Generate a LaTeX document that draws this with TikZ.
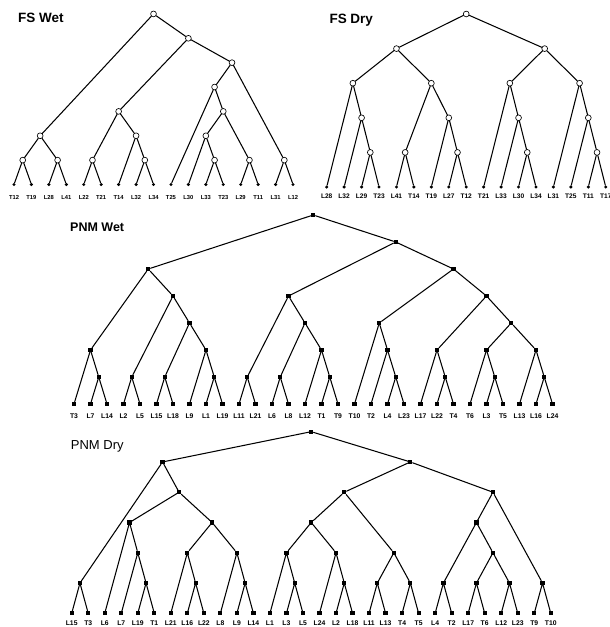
\documentclass[tikz,border=0pt]{standalone}
\usepackage{fontspec}
\setmainfont{Liberation Sans}

% grid of one tree: first leaf x, leaf spacing, leaf y, level height
\newcommand\setgrid[4]{\def\xo{#1}\def\dx{#2}\def\yb{#3}\def\dy{#4}}
% branch point spanning leaves #2..#3 at height #4
\newcommand\branchnode[4]{\node[branchpt] (#1) at ({\xo+\dx*(#2+#3)/2},{\yb-\dy*#4}) {};}
% leaves with their labels; #2 = baseline offset of the labels
\newcommand\leafrow[3]{\foreach \lab [count=\i from 0] in {#3}{%
  \node[leafpt] (#1L\i) at ({\xo+\dx*\i},\yb) {};
  \node[leaflabel] (#1T\i) at ({\xo+\dx*\i},{\yb+#2}) {\lab};}}
% two children joined at a parent
\newcommand\junction[3]{\draw[edge] (#2) -- (#1) -- (#3);}

\begin{document}
\begin{tikzpicture}[x=1pt,y=-1pt,
  edge/.style={line width=1.05pt, line cap=round},
  fsnode/.style={circle, draw, fill=white, line width=0.65pt, inner sep=0pt, minimum size=5.8pt},
  fsleaf/.style={circle, fill=black, inner sep=0pt, minimum size=3.4pt},
  pnmnode/.style={rectangle, fill=black, inner sep=0pt, minimum size=4.2pt},
  title/.style={anchor=base west, inner sep=0pt},
]
\fill[white] (0,0) rectangle (610,627);
\useasboundingbox (0,0) rectangle (610,627);

% ---------------- FS Wet ----------------
\node[title, font=\bfseries\fontsize{13.5}{15}\selectfont] (t1) at (18,22.7) {FS Wet};
\begin{scope}[branchpt/.style=fsnode, leafpt/.style=fsleaf,
  leaflabel/.style={anchor=base, inner sep=0pt, font=\bfseries\fontsize{5.8}{6}\selectfont}]
\setgrid{14}{17.44}{184.5}{24.37}
\leafrow{a}{14.5}{T12,T19,L28,L41,L22,T21,T14,L32,L34,T25,L30,L33,T23,L29,T11,L31,L12}
\branchnode{aR}{0}{16}{7}
\branchnode{aA}{0}{3}{2}
\branchnode{aB}{0}{1}{1}
\branchnode{aC}{2}{3}{1}
\branchnode{aD}{4}{16}{6}
\branchnode{aE}{4}{8}{3}
\branchnode{aF}{4}{5}{1}
\branchnode{aG}{6}{8}{2}
\branchnode{aH}{7}{8}{1}
\branchnode{aI}{9}{16}{5}
\branchnode{aJ}{9}{14}{4}
\branchnode{aK}{10}{14}{3}
\branchnode{aM}{10}{12}{2}
\branchnode{aN}{11}{12}{1}
\branchnode{aO}{13}{14}{1}
\branchnode{aP}{15}{16}{1}
\junction{aR}{aA}{aD}
\junction{aA}{aB}{aC}
\junction{aB}{aL0}{aL1}
\junction{aC}{aL2}{aL3}
\junction{aD}{aE}{aI}
\junction{aE}{aF}{aG}
\junction{aF}{aL4}{aL5}
\junction{aG}{aL6}{aH}
\junction{aH}{aL7}{aL8}
\junction{aI}{aJ}{aP}
\junction{aJ}{aL9}{aK}
\junction{aK}{aM}{aO}
\junction{aM}{aL10}{aN}
\junction{aN}{aL11}{aL12}
\junction{aO}{aL13}{aL14}
\junction{aP}{aL15}{aL16}
\end{scope}

% ---------------- FS Dry ----------------
\node[title, font=\bfseries\fontsize{13.5}{15}\selectfont] (t2) at (329.3,23.3) {FS Dry};
\begin{scope}[branchpt/.style=fsnode, leafpt/.style=fsleaf,
  leaflabel/.style={anchor=base, inner sep=0pt, font=\bfseries\fontsize{6.6}{7}\selectfont}]
\setgrid{326.7}{17.44}{187}{34.6}
\leafrow{b}{11.5}{L28,L32,L29,T23,L41,T14,T19,L27,T12,T21,L33,L30,L34,L31,T25,T11,T17}
\branchnode{bR}{0}{16}{5}
\branchnode{bA}{0}{8}{4}
\branchnode{bB}{0}{3}{3}
\branchnode{bC}{1}{3}{2}
\branchnode{bD}{2}{3}{1}
\branchnode{bE}{4}{8}{3}
\branchnode{bF}{4}{5}{1}
\branchnode{bG}{6}{8}{2}
\branchnode{bH}{7}{8}{1}
\branchnode{bI}{9}{16}{4}
\branchnode{bJ}{9}{12}{3}
\branchnode{bK}{10}{12}{2}
\branchnode{bM}{11}{12}{1}
\branchnode{bN}{13}{16}{3}
\branchnode{bO}{14}{16}{2}
\branchnode{bP}{15}{16}{1}
\junction{bR}{bA}{bI}
\junction{bA}{bB}{bE}
\junction{bB}{bL0}{bC}
\junction{bC}{bL1}{bD}
\junction{bD}{bL2}{bL3}
\junction{bE}{bF}{bG}
\junction{bF}{bL4}{bL5}
\junction{bG}{bL6}{bH}
\junction{bH}{bL7}{bL8}
\junction{bI}{bJ}{bN}
\junction{bJ}{bL9}{bK}
\junction{bK}{bL10}{bM}
\junction{bM}{bL11}{bL12}
\junction{bN}{bL13}{bO}
\junction{bO}{bL14}{bP}
\junction{bP}{bL15}{bL16}
\end{scope}

% ---------------- PNM Wet ----------------
\node[title, font=\bfseries\fontsize{12.5}{14}\selectfont] (t3) at (70,231.7) {PNM Wet};
\begin{scope}[branchpt/.style=pnmnode, leafpt/.style=pnmnode,
  leaflabel/.style={anchor=base, inner sep=0pt, font=\bfseries\fontsize{6.8}{7}\selectfont}]
\setgrid{74}{16.5}{404}{27}
\leafrow{c}{14.5}{T3,L7,L14,L2,L5,L15,L18,L9,L1,L19,L11,L21,L6,L8,L12,T1,T9,T10,T2,L4,L23,L17,L22,T4,T6,L3,T5,L13,L16,L24}
\branchnode{cR}{0}{29}{7}
\branchnode{cA}{0}{9}{5}
\branchnode{cB}{0}{2}{2}
\branchnode{cC}{1}{2}{1}
\branchnode{cD}{3}{9}{4}
\branchnode{cE}{3}{4}{1}
\branchnode{cF}{5}{9}{3}
\branchnode{cG}{5}{6}{1}
\branchnode{cH}{7}{9}{2}
\branchnode{cI}{8}{9}{1}
\branchnode{cJ}{10}{29}{6}
\branchnode{cK}{10}{16}{4}
\branchnode{cM}{10}{11}{1}
\branchnode{cN}{12}{16}{3}
\branchnode{cO}{12}{13}{1}
\branchnode{cP}{14}{16}{2}
\branchnode{cQ}{15}{16}{1}
\branchnode{cS}{17}{29}{5}
\branchnode{cT}{17}{20}{3}
\branchnode{cU}{18}{20}{2}
\branchnode{cV}{19}{20}{1}
\branchnode{cW}{21}{29}{4}
\branchnode{cX}{21}{23}{2}
\branchnode{cY}{22}{23}{1}
\branchnode{cZ}{24}{29}{3}
\branchnode{c1}{24}{26}{2}
\branchnode{c2}{25}{26}{1}
\branchnode{c3}{27}{29}{2}
\branchnode{c4}{28}{29}{1}
\junction{cR}{cA}{cJ}
\junction{cA}{cB}{cD}
\junction{cB}{cL0}{cC}
\junction{cC}{cL1}{cL2}
\junction{cD}{cE}{cF}
\junction{cE}{cL3}{cL4}
\junction{cF}{cG}{cH}
\junction{cG}{cL5}{cL6}
\junction{cH}{cL7}{cI}
\junction{cI}{cL8}{cL9}
\junction{cJ}{cK}{cS}
\junction{cK}{cM}{cN}
\junction{cM}{cL10}{cL11}
\junction{cN}{cO}{cP}
\junction{cO}{cL12}{cL13}
\junction{cP}{cL14}{cQ}
\junction{cQ}{cL15}{cL16}
\junction{cS}{cT}{cW}
\junction{cT}{cL17}{cU}
\junction{cU}{cL18}{cV}
\junction{cV}{cL19}{cL20}
\junction{cW}{cX}{cZ}
\junction{cX}{cL21}{cY}
\junction{cY}{cL22}{cL23}
\junction{cZ}{c1}{c3}
\junction{c1}{cL24}{c2}
\junction{c2}{cL25}{cL26}
\junction{c3}{cL27}{c4}
\junction{c4}{cL28}{cL29}
\end{scope}

% ---------------- PNM Dry ----------------
\node[title, font=\fontsize{13}{15}\selectfont] (t4) at (70.7,449.3) {PNM Dry};
\begin{scope}[branchpt/.style=pnmnode, leafpt/.style=pnmnode,
  leaflabel/.style={anchor=base, inner sep=0pt, font=\bfseries\fontsize{6.8}{7}\selectfont}]
\setgrid{71.7}{16.52}{613.3}{30.27}
\leafrow{d}{11.7}{L15,T3,L6,L7,L19,T1,L21,L16,L22,L8,L9,L14,L1,L3,L5,L24,L2,L18,L11,L13,T4,T5,L4,T2,L17,T6,L12,L23,T9,T10}
\branchnode{dR}{0}{29}{6}
\branchnode{dA}{0}{11}{5}
\branchnode{dB}{0}{1}{1}
\branchnode{dC}{2}{11}{4}
\branchnode{dD}{2}{5}{3}
\branchnode{dE}{3}{5}{2}
\branchnode{dF}{4}{5}{1}
\branchnode{dG}{6}{11}{3}
\branchnode{dH}{6}{8}{2}
\branchnode{dI}{7}{8}{1}
\branchnode{dJ}{9}{11}{2}
\branchnode{dK}{10}{11}{1}
\branchnode{dM}{12}{29}{5}
\branchnode{dN}{12}{21}{4}
\branchnode{dO}{12}{17}{3}
\branchnode{dP}{12}{14}{2}
\branchnode{dQ}{13}{14}{1}
\branchnode{dS}{15}{17}{2}
\branchnode{dT}{16}{17}{1}
\branchnode{dU}{18}{21}{2}
\branchnode{dV}{18}{19}{1}
\branchnode{dW}{20}{21}{1}
\branchnode{dX}{22}{29}{4}
\branchnode{dY}{22}{27}{3}
\branchnode{dZ}{22}{23}{1}
\branchnode{d1}{24}{27}{2}
\branchnode{d2}{24}{25}{1}
\branchnode{d3}{26}{27}{1}
\branchnode{d4}{28}{29}{1}
\junction{dR}{dA}{dM}
\junction{dA}{dB}{dC}
\junction{dB}{dL0}{dL1}
\junction{dC}{dD}{dG}
\junction{dD}{dL2}{dE}
\junction{dE}{dL3}{dF}
\junction{dF}{dL4}{dL5}
\junction{dG}{dH}{dJ}
\junction{dH}{dL6}{dI}
\junction{dI}{dL7}{dL8}
\junction{dJ}{dL9}{dK}
\junction{dK}{dL10}{dL11}
\junction{dM}{dN}{dX}
\junction{dN}{dO}{dU}
\junction{dO}{dP}{dS}
\junction{dP}{dL12}{dQ}
\junction{dQ}{dL13}{dL14}
\junction{dS}{dL15}{dT}
\junction{dT}{dL16}{dL17}
\junction{dU}{dV}{dW}
\junction{dV}{dL18}{dL19}
\junction{dW}{dL20}{dL21}
\junction{dX}{dY}{d4}
\junction{dY}{dZ}{d1}
\junction{dZ}{dL22}{dL23}
\junction{d1}{d2}{d3}
\junction{d2}{dL24}{dL25}
\junction{d3}{dL26}{dL27}
\junction{d4}{dL28}{dL29}
\end{scope}
\end{tikzpicture}
\end{document}
